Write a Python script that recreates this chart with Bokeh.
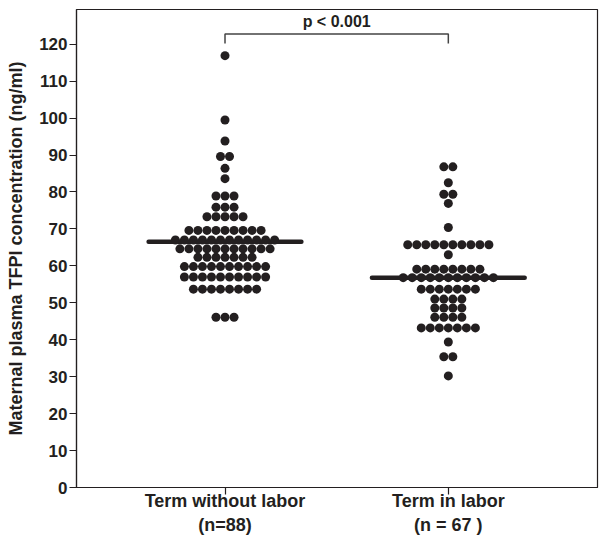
from collections import Counter
from bokeh.plotting import figure
from bokeh.models import FixedTicker, Range1d, ColumnDataSource, Label
from bokeh.embed import file_html
from bokeh.resources import INLINE

# ---- data ----
categories = ["Term without labor\n(n=88)", "Term in labor\n(n = 67 )"]
cat_pos = [0, 1]

term_without_labor = (
    [116.9] + [99.5] + [93.8] + [89.6] * 2 + [86.4] + [83.6]
    + [78.9] * 3 + [75.9] * 3 + [73.3] * 5 + [69.6] * 9 + [67.0] * 12
    + [64.6] * 11 + [62.3] * 7 + [59.8] * 10 + [57.0] * 10 + [53.7] * 8
    + [46.1] * 3
)
term_in_labor = (
    [86.8] * 2 + [82.5] + [79.4] * 2 + [76.9] + [70.4] + [65.7] * 10
    + [63.0] + [59.1] * 8 + [56.8] * 11 + [53.7] * 7 + [51.0] * 4
    + [48.6] * 4 + [46.1] * 4 + [43.2] * 7 + [39.4] + [35.4] * 2 + [30.2]
)
medians = [66.5, 56.8]
y_ticks = list(range(0, 121, 10))
p_text = "p < 0.001"
bracket_top = 122.8
bracket_bottom = 120.2
p_text_y = 123.9

INK = "#231f20"
FONT = "Liberation Sans"
DOT_STEP = 0.0404   # horizontal spacing of stacked dots (x units)
MED_HALF = 0.342

def swarm(center, vals):
    xs, ys = [], []
    counts = Counter(vals)
    for v, n in counts.items():
        for i in range(n):
            xs.append(center + (i - (n - 1) / 2) * DOT_STEP)
            ys.append(v)
    return xs, ys

x1, y1 = swarm(cat_pos[0], term_without_labor)
x2, y2 = swarm(cat_pos[1], term_in_labor)

p = figure(width=610, height=545, output_backend="svg", toolbar_location=None,
           x_range=Range1d(-0.665, 1.668), y_range=Range1d(0, 129.4),
           min_border_left=76, min_border_right=13, min_border_top=9,
           min_border_bottom=58)
p.grid.visible = False
p.outline_line_color = INK
p.outline_line_width = 1.2

src = ColumnDataSource(dict(x=x1 + x2, y=y1 + y2))
p.scatter("x", "y", source=src, size=9, color=INK, line_color=None)

# median bars
p.segment(x0=[c - MED_HALF for c in cat_pos], x1=[c + MED_HALF for c in cat_pos],
          y0=medians, y1=medians, line_color=INK, line_width=4.5, line_cap="round")

# significance bracket
p.line(x=[cat_pos[0], cat_pos[0], cat_pos[1], cat_pos[1]],
       y=[bracket_bottom, bracket_top, bracket_top, bracket_bottom],
       line_color="#444444", line_width=1.5)
p.add_layout(Label(x=(cat_pos[0] + cat_pos[1]) / 2, y=p_text_y, text=p_text,
                   text_align="center", text_baseline="bottom",
                   text_font=FONT, text_font_style="bold", text_font_size="16px",
                   text_color=INK))

# axes
p.xaxis.ticker = FixedTicker(ticks=cat_pos)
p.xaxis.major_label_overrides = {c: lab for c, lab in zip(cat_pos, categories)}
p.yaxis.ticker = FixedTicker(ticks=y_ticks)
for ax in (p.xaxis, p.yaxis):
    ax.axis_line_color = INK
    ax.axis_line_width = 1.2
    ax.major_tick_line_color = INK
    ax.major_tick_line_width = 1.2
    ax.major_tick_out = 7
    ax.major_tick_in = 0
    ax.minor_tick_line_color = None
    ax.major_label_text_font = FONT
    ax.major_label_text_font_style = "bold"
    ax.major_label_text_color = INK
p.yaxis.major_label_text_font_size = "17px"
p.xaxis.major_label_text_font_size = "18px"
p.xaxis.major_label_standoff = -4
p.yaxis.major_label_standoff = 2
p.yaxis.axis_label = "Maternal plasma TFPI concentration (ng/ml)"
p.yaxis.axis_label_text_font = FONT
p.yaxis.axis_label_text_font_style = "bold"
p.yaxis.axis_label_text_font_size = "18px"
p.yaxis.axis_label_text_color = INK
p.yaxis.axis_label_standoff = 10

open("out.html", "w").write(file_html(p, INLINE))
